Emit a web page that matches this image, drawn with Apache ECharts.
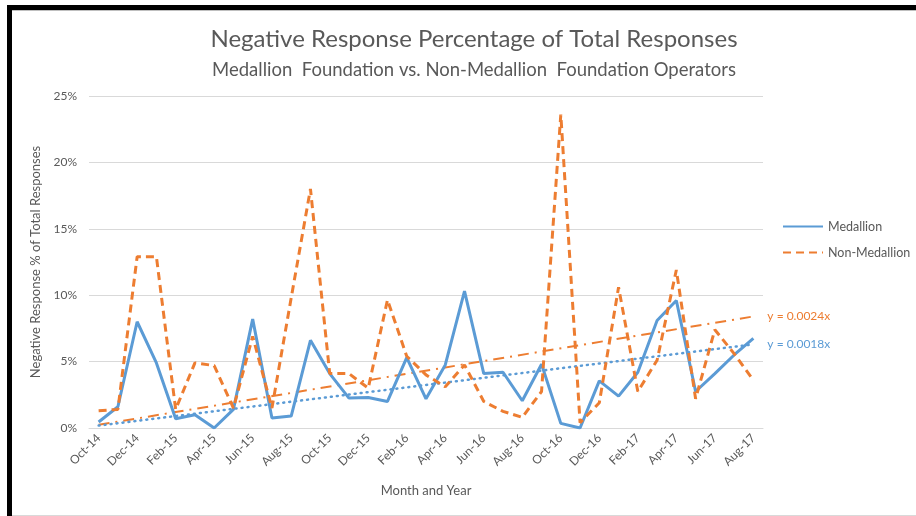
<!DOCTYPE html>
<html>
<head>
<meta charset="utf-8">
<title>Negative Response Percentage</title>
<script src="https://cdn.jsdelivr.net/npm/echarts@6/dist/echarts.min.js"></script>
</head>
<body style="margin:0;padding:0;background:#fff">
<div id="chart" style="width:916px;height:516px"></div>
<script>
// months Oct-14 .. Aug-17
var months = ['Oct-14','Nov-14','Dec-14','Jan-15','Feb-15','Mar-15','Apr-15','May-15','Jun-15','Jul-15','Aug-15','Sep-15',
  'Oct-15','Nov-15','Dec-15','Jan-16','Feb-16','Mar-16','Apr-16','May-16','Jun-16','Jul-16','Aug-16','Sep-16',
  'Oct-16','Nov-16','Dec-16','Jan-17','Feb-17','Mar-17','Apr-17','May-17','Jun-17','Jul-17','Aug-17'];

// negative response %
var medallion = [0.45, 1.6, 8.0, 4.9, 0.7, 1.0, 0.0, 1.4, 8.2, 0.75, 0.9, 6.6, 4.1, 2.25, 2.3, 2.0, 5.3, 2.2,
  4.75, 10.3, 4.1, 4.2, 2.05, 4.8, 0.35, 0.0, 3.55, 2.4, 4.2, 8.1, 9.6, 2.75, 4.1, 5.5, 6.75];
var nonMedallion = [1.3, 1.4, 12.9, 12.9, 1.4, 4.9, 4.7, 1.5, 6.9, 1.5, 9.8, 18.0, 4.1, 4.1, 3.0, 9.65, 5.4, 4.0,
  3.1, 4.75, 2.0, 1.25, 0.8, 2.75, 23.6, 0.4, 1.9, 10.6, 2.75, 5.1, 11.9, 2.2, 7.4, 5.6, 3.6];

// trendline ends (first / last month)
var medTrendEnds = [0.18, 6.3];
var nonTrendEnds = [0.24, 8.4];
var medTrendLabel = 'y = 0.0018x';
var nonTrendLabel = 'y = 0.0024x';

function trendSeries(ends) {
  var arr = months.map(function () { return null; });
  arr[0] = ends[0];
  arr[arr.length - 1] = ends[1];
  return arr;
}

var blue = '#5B9BD5';
var orange = '#ED7D31';
var txt = '#595959';
var font = 'Lato, "Open Sans", sans-serif';

var chart = echarts.init(document.getElementById('chart'));
chart.setOption({
  backgroundColor: '#fff',
  animation: false,
  textStyle: { fontFamily: font, color: txt },
  title: [{
    text: 'Negative Response Percentage of Total Responses',
    left: 469, top: 22, textAlign: 'center',
    textStyle: { fontSize: 24, fontWeight: 'normal', color: txt, fontFamily: font }
  }, {
    text: 'Medallion  Foundation vs. Non-Medallion  Foundation Operators',
    left: 469, top: 56, textAlign: 'center',
    textStyle: { fontSize: 18.5, fontWeight: 'normal', color: txt, fontFamily: font }
  }],
  legend: {
    data: ['Medallion', 'Non-Medallion'],
    orient: 'vertical',
    left: 777, top: 215,
    itemWidth: 40, itemHeight: 12, itemGap: 13,
    itemStyle: { opacity: 0 },
    textStyle: { fontSize: 12.5, color: txt, fontFamily: font }
  },
  grid: { left: 89, right: 153, top: 96, bottom: 88 },
  xAxis: {
    type: 'category',
    data: months,
    name: 'Month and Year',
    nameLocation: 'middle',
    nameGap: 56,
    nameTextStyle: { fontSize: 13, color: txt },
    axisLine: { lineStyle: { color: '#d9d9d9', width: 1 } },
    axisTick: { show: false },
    axisLabel: { interval: 1, rotate: 45, fontSize: 12, color: txt, margin: 8 }
  },
  yAxis: {
    type: 'value',
    min: 0, max: 25, interval: 5,
    name: 'Negative Response % of Total Responses',
    nameLocation: 'middle',
    nameGap: 45,
    nameTextStyle: { fontSize: 13, color: txt },
    axisLine: { show: false },
    axisTick: { show: false },
    axisLabel: { formatter: '{value}%', fontSize: 12, color: txt, margin: 12 },
    splitLine: { lineStyle: { color: '#d9d9d9', width: 1 } }
  },
  series: [{
    name: 'Medallion',
    type: 'line',
    data: medallion,
    symbol: 'none',
    lineStyle: { color: blue, width: 3 },
    itemStyle: { color: blue },
    z: 3
  }, {
    name: 'Non-Medallion',
    type: 'line',
    data: nonMedallion,
    symbol: 'none',
    lineStyle: { color: orange, width: 3, type: [8, 5] },
    itemStyle: { color: orange },
    z: 4
  }, {
    name: 'Non-Medallion trend',
    type: 'line',
    data: trendSeries(nonTrendEnds),
    connectNulls: true,
    symbol: 'none',
    lineStyle: { color: orange, width: 2, type: [11, 6, 2, 6] },
    endLabel: { show: true, formatter: nonTrendLabel, color: orange, fontSize: 12, distance: 14 },
    z: 2
  }, {
    name: 'Medallion trend',
    type: 'line',
    data: trendSeries(medTrendEnds),
    connectNulls: true,
    symbol: 'none',
    lineStyle: { color: blue, width: 2.5, type: [1, 5], cap: 'round' },
    endLabel: { show: true, formatter: medTrendLabel, color: blue, fontSize: 12, distance: 14 },
    z: 2
  }],
  graphic: [
    { type: 'rect', shape: { x: 7, y: 5, width: 909, height: 5 }, style: { fill: '#000' } },
    { type: 'rect', shape: { x: 7, y: 5, width: 5, height: 511 }, style: { fill: '#000' } },
    { type: 'rect', shape: { x: 12, y: 10, width: 904, height: 1 }, style: { fill: '#bfbfbf' } },
    { type: 'rect', shape: { x: 12, y: 515, width: 904, height: 1 }, style: { fill: '#d9d9d9' } }
  ]
});
</script>
</body>
</html>
